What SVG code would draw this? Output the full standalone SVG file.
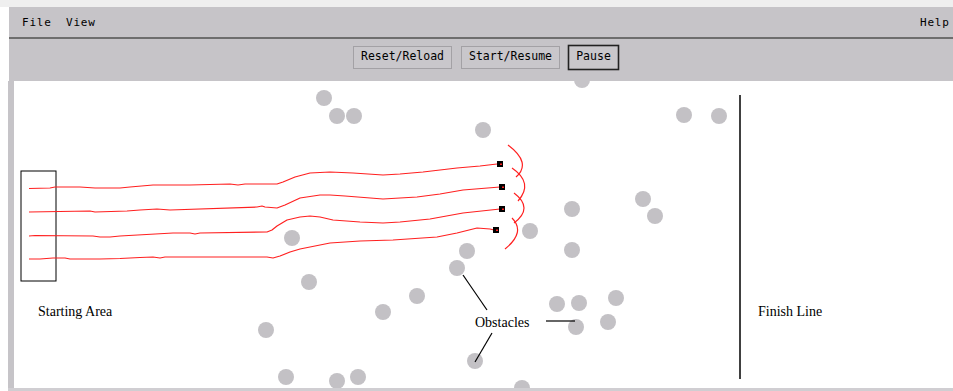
<svg xmlns="http://www.w3.org/2000/svg" width="953" height="391" viewBox="0 0 953 391">
<style>
.menu{font-family:"DejaVu Sans Mono","Liberation Mono",monospace;font-size:11px;fill:#000;letter-spacing:0.8px}
.btn{font-family:"DejaVu Sans Mono","Liberation Mono",monospace;font-size:11.5px;fill:#000;text-anchor:middle}
.lbl{font-family:"Liberation Serif","Times New Roman",serif;font-size:14px;fill:#000}
.obs{fill:#c3c1c5}
.trail{fill:none;stroke:#ff2020;stroke-width:1.2;stroke-linejoin:round}
.lead{stroke:#000;stroke-width:1.2;fill:none}
</style>
<rect x="0" y="0" width="953" height="391" fill="#ffffff"/>
<rect x="0" y="0" width="953" height="7" fill="#efefef"/>
<g id="chrome">
<rect x="9" y="7" width="944" height="74" fill="#c6c4c8"/>
<rect x="8" y="81" width="6" height="310" fill="#c6c4c8"/>
<line x1="9" y1="38" x2="953" y2="38" stroke="#6e6e6e" stroke-width="2"/>
<text class="menu" x="22" y="26">File</text>
<text class="menu" x="66" y="26">View</text>
<text class="menu" x="920" y="26">Help</text>
</g>
<g id="btn-reset">
<rect x="353.5" y="46.5" width="98" height="22" fill="#c9c7cb" stroke="#a3a1a5"/>
<text class="btn" x="402.5" y="59.5">Reset/Reload</text>
</g>
<g id="btn-start">
<rect x="461.5" y="46.5" width="98" height="22" fill="#c9c7cb" stroke="#a3a1a5"/>
<text class="btn" x="510.5" y="59.5">Start/Resume</text>
</g>
<g id="btn-pause">
<rect x="568.5" y="45.5" width="50" height="24" fill="#c9c7cb" stroke="#222" stroke-width="1.6"/>
<text class="btn" x="593.5" y="59.5">Pause</text>
</g>
<g id="obstacles">
<circle cx="582" cy="80" r="8" fill="#c6c4c8"/>
<circle class="obs" cx="324" cy="98" r="8"/>
<circle class="obs" cx="337" cy="116" r="8"/>
<circle class="obs" cx="354" cy="116" r="8"/>
<circle class="obs" cx="483" cy="130" r="8"/>
<circle class="obs" cx="684" cy="115" r="8"/>
<circle class="obs" cx="719" cy="116" r="8"/>
<circle class="obs" cx="292" cy="238" r="8"/>
<circle class="obs" cx="530" cy="231" r="8"/>
<circle class="obs" cx="467" cy="251" r="8"/>
<circle class="obs" cx="457" cy="268" r="8"/>
<circle class="obs" cx="309" cy="282" r="8"/>
<circle class="obs" cx="266" cy="330" r="8"/>
<circle class="obs" cx="383" cy="312" r="8"/>
<circle class="obs" cx="417" cy="296" r="8"/>
<circle class="obs" cx="475" cy="361" r="8"/>
<circle class="obs" cx="286" cy="377" r="8"/>
<circle class="obs" cx="337" cy="381" r="8"/>
<circle class="obs" cx="358" cy="377" r="8"/>
<circle class="obs" cx="522" cy="388" r="8"/>
<circle class="obs" cx="557" cy="304" r="8"/>
<circle class="obs" cx="579" cy="303" r="8"/>
<circle class="obs" cx="616" cy="298" r="8"/>
<circle class="obs" cx="576" cy="327" r="8"/>
<circle class="obs" cx="608" cy="322" r="8"/>
<circle class="obs" cx="572" cy="209" r="8"/>
<circle class="obs" cx="643" cy="199" r="8"/>
<circle class="obs" cx="655" cy="216" r="8"/>
<circle class="obs" cx="572" cy="250" r="8"/>
</g>
<rect x="8" y="388" width="945" height="3" fill="#d0ced2"/>
<g id="starting-area">
<rect x="21" y="171" width="35" height="110" fill="none" stroke="#000" stroke-width="1"/>
<text class="lbl" x="38" y="316">Starting Area</text>
</g>
<g id="finish-line">
<line x1="740" y1="95" x2="740" y2="379" stroke="#000" stroke-width="1.5"/>
<text class="lbl" x="758" y="316">Finish Line</text>
</g>
<g id="robots">
<polyline class="trail" points="29,188.5 50,188 55,187 80,187 95,188 120,188 130,187 153,185 190,185 230,184 238,185 245,184 277,184 283,182 295,177 310,173 330,172 353,173 383,175 400,174 423,172 457,168 480,166 497,164"/>
<polyline class="trail" points="29,212 90,211 95,212 127,211 140,210 157,209 170,210 257,207 262,206 265,207 277,208 285,205 300,198 320,195 330,195 345,196 383,199 400,198 417,197 440,194 463,190 500,187"/>
<polyline class="trail" points="29,236 35,235.5 93,236 100,237 110,237 120,236 173,233 190,233 195,234 200,233 267,232 272,230 277,226 287,220 300,217 310,216 320,217 333,220 360,222 383,223 400,222 430,219 463,213 500,209"/>
<polyline class="trail" points="29,259 40,259 53,258 65,258 70,259 80,259 100,259 120,258.5 140,257.5 153,257 160,258 165,257 267,257 273,258 280,256 290,252 300,249 330,243 360,241 393,240 437,237 457,233 477,228 490,229 494,230"/>
<path class="trail" d="M508,145 Q532,163 516,177"/>
<path class="trail" d="M512,168 Q534,183 518,201"/>
<path class="trail" d="M514,193 Q534,208 514,223"/>
<path class="trail" d="M512,218 Q526,232 505,249"/>
<rect x="497" y="161" width="6" height="6" fill="#000"/>
<rect x="499" y="184" width="6" height="6" fill="#000"/>
<rect x="499" y="206" width="6" height="6" fill="#000"/>
<rect x="493" y="227" width="6" height="6" fill="#000"/>
<rect x="500" y="163.5" width="2" height="1.5" fill="#ff2020"/>
<rect x="502" y="186.5" width="2" height="1.5" fill="#ff2020"/>
<rect x="502" y="208.5" width="2" height="1.5" fill="#ff2020"/>
<rect x="496" y="229.5" width="2" height="1.5" fill="#ff2020"/>
</g>
<g id="obstacles-label">
<text class="lbl" x="475" y="327">Obstacles</text>
</g>
<g id="connectors">
<line class="lead" x1="463" y1="275" x2="487" y2="310"/>
<line class="lead" x1="492" y1="333" x2="475" y2="362"/>
<line class="lead" x1="546" y1="321" x2="575" y2="321"/>
</g>
</svg>
